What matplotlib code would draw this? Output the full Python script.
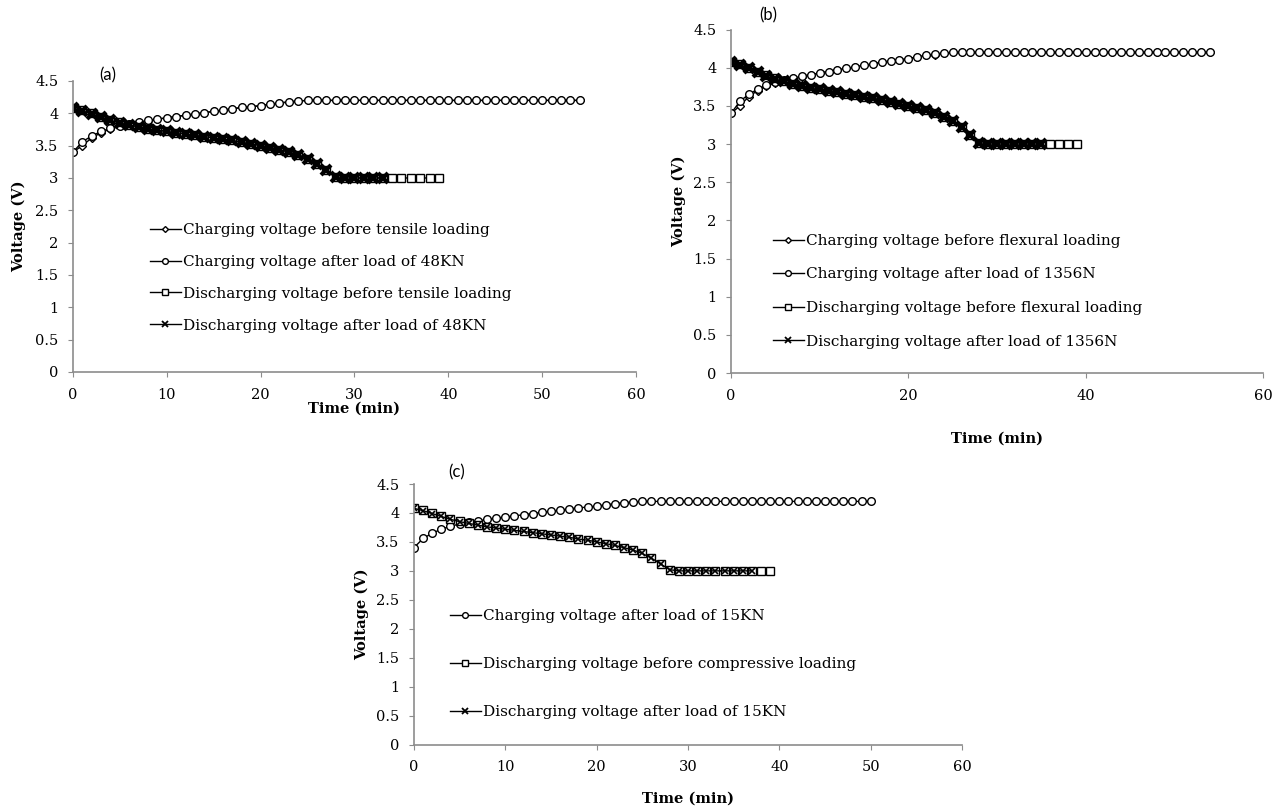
import numpy as np
import matplotlib
matplotlib.use("Agg")
from matplotlib import pyplot as plt

plt.rcParams['font.family'] = ['DejaVu Serif']

# ---- data ----
charge_before = [3.40, 3.50, 3.62, 3.70, 3.76, 3.80, 3.83, 3.86, 3.88, 3.91,
                 3.93, 3.95, 3.97, 3.99, 4.01, 4.03, 4.05, 4.07, 4.09, 4.10,
                 4.12, 4.14, 4.16, 4.17, 4.19, 4.20, 4.20, 4.20, 4.20, 4.20,
                 4.20, 4.20, 4.20, 4.20, 4.20, 4.20, 4.20, 4.20, 4.20, 4.20,
                 4.20, 4.20, 4.20, 4.20, 4.20, 4.20, 4.20, 4.20, 4.20, 4.20,
                 4.20, 4.20, 4.20, 4.20, 4.20]
charge_after = [3.40, 3.56, 3.65, 3.72, 3.77, 3.81, 3.84, 3.86, 3.89, 3.91,
                3.93, 3.95, 3.97, 3.99, 4.01, 4.03, 4.05, 4.07, 4.09, 4.10,
                4.12, 4.14, 4.16, 4.18, 4.19, 4.20, 4.20, 4.20, 4.20, 4.20,
                4.20, 4.20, 4.20, 4.20, 4.20, 4.20, 4.20, 4.20, 4.20, 4.20,
                4.20, 4.20, 4.20, 4.20, 4.20, 4.20, 4.20, 4.20, 4.20, 4.20,
                4.20, 4.20, 4.20, 4.20, 4.20]
discharge_before = [4.08, 4.05, 4.00, 3.95, 3.90, 3.86, 3.82, 3.79, 3.76, 3.74,
                    3.72, 3.70, 3.68, 3.66, 3.64, 3.62, 3.60, 3.58, 3.55, 3.53,
                    3.50, 3.47, 3.44, 3.40, 3.36, 3.30, 3.22, 3.12, 3.02, 3.00,
                    3.00, 3.00, 3.00, 3.00, 3.00, 3.00, 3.00, 3.00, 3.00, 3.00]
discharge_after = [4.08, 4.04, 3.99, 3.94, 3.89, 3.85, 3.82, 3.79, 3.76, 3.74,
                   3.72, 3.70, 3.68, 3.66, 3.64, 3.62, 3.60, 3.58, 3.55, 3.53,
                   3.50, 3.47, 3.44, 3.40, 3.36, 3.30, 3.22, 3.12, 3.02, 3.00,
                   3.00, 3.00, 3.00, 3.00, 3.00, 3.00, 3.00, 3.00]

# series lengths per panel (number of one-minute readings)
a_len = {'cb': 55, 'ca': 55, 'db': 40, 'da': 34}
b_len = {'cb': 55, 'ca': 55, 'db': 40, 'da': 36}
c_len = {'ca': 51, 'db': 40, 'da': 38}

labels_a = ["Charging voltage before tensile loading",
            "Charging voltage after load of 48KN",
            "Discharging voltage before tensile loading",
            "Discharging voltage after load of 48KN"]
labels_b = ["Charging voltage before flexural loading",
            "Charging voltage after load of 1356N",
            "Discharging voltage before flexural loading",
            "Discharging voltage after load of 1356N"]
labels_c = ["Charging voltage after load of 15KN",
            "Discharging voltage before compressive loading",
            "Discharging voltage after load of 15KN"]

yticks = np.arange(0, 4.51, 0.5)
ytick_labels = ["0", "0.5", "1", "1.5", "2", "2.5", "3", "3.5", "4", "4.5"]

axis_grey = '#8c8c8c'
styles = {
    'cb': dict(marker='D', ms=4, mfc='white', mec='black', mew=1.0),
    'ca': dict(marker='o', ms=5.5, mfc='white', mec='black', mew=1.0),
    'db': dict(marker='s', ms=5.5, mfc='white', mec='black', mew=1.0),
    'da': dict(marker='x', ms=6.5, mec='black', mew=3.0),
}
series = {'cb': charge_before, 'ca': charge_after,
          'db': discharge_before, 'da': discharge_after}


def style_axes(ax, xticks):
    for s in ['top', 'right']:
        ax.spines[s].set_visible(False)
    for s in ['left', 'bottom']:
        ax.spines[s].set_color(axis_grey)
        ax.spines[s].set_linewidth(1.2)
    ax.set_xlim(0, 60)
    ax.set_ylim(0, 4.5)
    ax.set_yticks(yticks)
    ax.set_yticklabels(ytick_labels)
    ax.set_xticks(xticks)
    ax.tick_params(direction='out', length=3.5, color=axis_grey, labelsize=10.5)
    ax.tick_params(axis='x', pad=8)
    ax.tick_params(axis='y', pad=7)
    ax.set_xlabel("Time (min)", fontsize=10.5, fontweight='bold')
    ax.set_ylabel("Voltage (V)", fontsize=10.5, fontweight='bold')


def draw(ax, lens, labels, da_style=None):
    for key, lab in zip(lens.keys(), labels):
        y = series[key][:lens[key]]
        t = np.arange(len(y))
        st = dict(styles[key])
        if key == 'da' and da_style is not None:
            st.update(da_style)
        ax.plot(t, y, color='black', lw=1.0, label=lab, **st)


def add_legend(ax, anchor, spacing):
    leg = ax.legend(loc='upper left', bbox_to_anchor=anchor, frameon=False,
                    fontsize=11.0, labelspacing=spacing, handlelength=2.0,
                    handletextpad=0.15, markerscale=0.75, borderpad=0,
                    borderaxespad=0)
    for h in leg.legend_handles:
        if h.get_marker() == 'x':
            h.set_markeredgewidth(1.3)


fig = plt.figure(figsize=(12.82, 8.09), dpi=100)

# (a)
ax_a = fig.add_axes([0.0569, 0.5402, 0.4392, 0.3597])
draw(ax_a, a_len, labels_a)
style_axes(ax_a, np.arange(0, 61, 10))
add_legend(ax_a, (0.137, 0.512), 1.17)
ax_a.text(0.062, 1.02, "(a)", transform=ax_a.transAxes, fontsize=12,
          family='Lato', ha='center', va='center')
ax_a.yaxis.set_label_coords(-0.084, 0.5)
ax_a.xaxis.set_label_coords(0.5, -0.102)

# (b)
ax_b = fig.add_axes([0.5702, 0.5389, 0.4150, 0.4246])
draw(ax_b, b_len, labels_b)
style_axes(ax_b, np.arange(0, 61, 20))
add_legend(ax_b, (0.079, 0.405), 1.28)
ax_b.text(0.07, 1.042, "(b)", transform=ax_b.transAxes, fontsize=12,
          family='Lato', ha='center', va='center')
ax_b.yaxis.set_label_coords(-0.085, 0.5)
ax_b.xaxis.set_label_coords(0.5, -0.17)

# (c)
ax_c = fig.add_axes([0.3229, 0.0797, 0.4275, 0.3220])
draw(ax_c, c_len, labels_c, da_style=dict(mew=1.2, ms=5))
style_axes(ax_c, np.arange(0, 61, 10))
add_legend(ax_c, (0.066, 0.52), 2.22)
ax_c.text(0.078, 1.046, "(c)", transform=ax_c.transAxes, fontsize=12,
          family='Lato', ha='center', va='center')
ax_c.yaxis.set_label_coords(-0.082, 0.5)
ax_c.xaxis.set_label_coords(0.5, -0.18)

fig.savefig("out.png", dpi=100)
